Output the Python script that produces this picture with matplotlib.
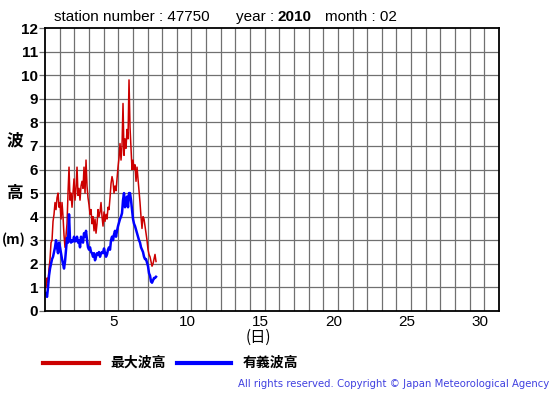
import numpy as np
import matplotlib
matplotlib.use('Agg')
from matplotlib import pyplot as plt

# hourly-ish readings, Feb 2010, station 47750
max_wave = [1.0, 1.4, 1.2, 1.8, 2.2, 2.9, 3.0, 3.8, 4.1, 4.6, 4.3, 4.8, 5.0, 4.4, 4.6, 3.9,
            4.6, 4.0, 3.2, 2.7, 3.2, 3.7, 5.0, 6.1, 4.7, 5.0, 4.4, 5.0, 5.6, 4.7, 5.2, 6.1,
            4.9, 5.2, 4.7, 5.3, 5.5, 5.2, 6.1, 5.0, 6.4, 5.3, 4.8, 4.5, 4.1, 4.3, 3.7, 4.0,
            3.4, 3.9, 3.3, 3.7, 4.3, 4.0, 4.2, 4.6, 4.0, 3.6, 4.2, 3.8, 4.1, 3.9, 4.4, 4.3,
            4.8, 5.4, 5.7, 5.5, 5.0, 5.3, 5.1, 5.6, 6.1, 6.5, 7.1, 6.4, 7.0, 8.8, 6.6, 7.3,
            6.9, 7.7, 7.3, 9.8, 7.8, 6.9, 6.0, 6.4, 6.0, 6.2, 5.5, 6.1, 5.6, 5.1, 4.6, 4.0,
            3.5, 4.0, 3.9, 3.6, 3.3, 3.0, 2.6, 2.4, 2.3, 2.1, 1.9, 2.0, 2.2, 2.4, 2.1]
sig_wave = [0.75, 0.6, 1.0, 1.5, 1.8, 2.0, 2.2, 2.3, 2.5, 2.7, 3.0, 2.7, 2.45, 2.9, 2.7, 2.45,
            2.2, 2.0, 1.8, 2.1, 2.6, 3.1, 2.9, 4.1, 3.0, 2.9, 3.0, 2.95, 3.15, 2.95, 3.0, 3.15,
            2.9, 3.0, 2.7, 3.15, 2.95, 2.9, 3.3, 3.15, 3.4, 3.0, 2.7, 2.6, 2.7, 2.5, 2.45, 2.3,
            2.45, 2.15, 2.3, 2.45, 2.4, 2.5, 2.3, 2.45, 2.5, 2.45, 2.65, 2.45, 2.3, 2.4, 2.6, 2.7,
            2.6, 3.0, 3.15, 3.0, 3.25, 3.4, 3.15, 3.4, 3.6, 3.75, 3.9, 4.0, 4.15, 4.7, 5.0, 4.4,
            4.7, 4.85, 4.4, 5.0, 5.0, 4.7, 4.3, 3.9, 3.7, 3.6, 3.45, 3.3, 3.15, 3.0, 2.9, 2.7,
            2.6, 2.5, 2.3, 2.2, 2.2, 2.05, 1.9, 1.6, 1.5, 1.25, 1.2, 1.3, 1.4, 1.4, 1.45]
t = np.linspace(0.07, 7.58, len(max_wave))  # days since Feb 1 00h

day_ticks = [5, 10, 15, 20, 25, 30]
y_ticks = list(range(0, 13))

W, H = 555, 395
fig = plt.figure(figsize=(W / 100, H / 100), dpi=100)
ax = fig.add_axes([45 / W, 1 - 311 / H, 454 / W, 283 / H])

lat = ['Liberation Sans', 'DejaVu Sans']
cjk = ['Noto Sans CJK JP', 'DejaVu Sans']

ax.plot(t, max_wave, color='#cc0000', lw=1.1)
ax.plot(t, sig_wave, color='#0000ff', lw=1.8)

ax.set_xlim(0, 31)
ax.set_ylim(0, 12)
for d in range(1, 31):
    ax.axvline(d, color='#707070', lw=0.9, zorder=0)
for v in range(1, 12):
    ax.axhline(v, color='#707070', lw=0.9, zorder=0)

ax.set_xticks([d - 0.3 for d in day_ticks])
ax.set_xticklabels([str(d) for d in day_ticks], fontfamily=lat, fontsize=11)
ax.tick_params(axis='x', length=0, pad=3)
ax.set_yticks(y_ticks)
ax.set_yticklabels([str(v) for v in y_ticks], fontfamily=lat, fontsize=11, fontweight='bold')
ax.tick_params(axis='y', length=4, color='#707070', width=0.9, pad=1)
for s in ax.spines.values():
    s.set_color('black')
    s.set_linewidth(1.3)

def px(x, y):
    return x / W, 1 - y / H

# title
fig.text(*px(54, 17), 'station number : 47750', fontfamily=lat, fontsize=11, va='center')
fig.text(*px(236, 17), 'year : ', fontfamily=lat, fontsize=11, va='center')
fig.text(*px(278, 17), '2010', fontfamily=lat, fontsize=11, fontweight='bold', va='center')
fig.text(*px(325, 17), 'month : 02', fontfamily=lat, fontsize=11, va='center')

# y label
fig.text(*px(15, 140), '波', fontfamily=cjk, fontsize=12, fontweight='bold', ha='center', va='center')
fig.text(*px(15, 193), '高', fontfamily=cjk, fontsize=12, fontweight='bold', ha='center', va='center')
fig.text(*px(14, 240), '(m)', fontfamily=cjk, fontsize=10, fontweight='bold', ha='center', va='center')
# x label
fig.text(*px(258, 337), '(日)', fontfamily=cjk, fontsize=11, ha='center', va='center')

# legend
fig.add_artist(plt.Line2D([43 / W, 99 / W], [1 - 363 / H] * 2, color='#cc0000', lw=3))
fig.text(*px(110, 363), '最大波高', fontfamily=cjk, fontsize=10, fontweight='bold', va='center')
fig.add_artist(plt.Line2D([177 / W, 231 / W], [1 - 363 / H] * 2, color='#0000ff', lw=3))
fig.text(*px(243, 363), '有義波高', fontfamily=cjk, fontsize=10, fontweight='bold', va='center')

fig.text(*px(549, 384), 'All rights reserved. Copyright © Japan Meteorological Agency',
         fontfamily=['DejaVu Sans'], fontsize=7.3, color='#4040e0', ha='right', va='center')

fig.savefig('out.png', dpi=100)
